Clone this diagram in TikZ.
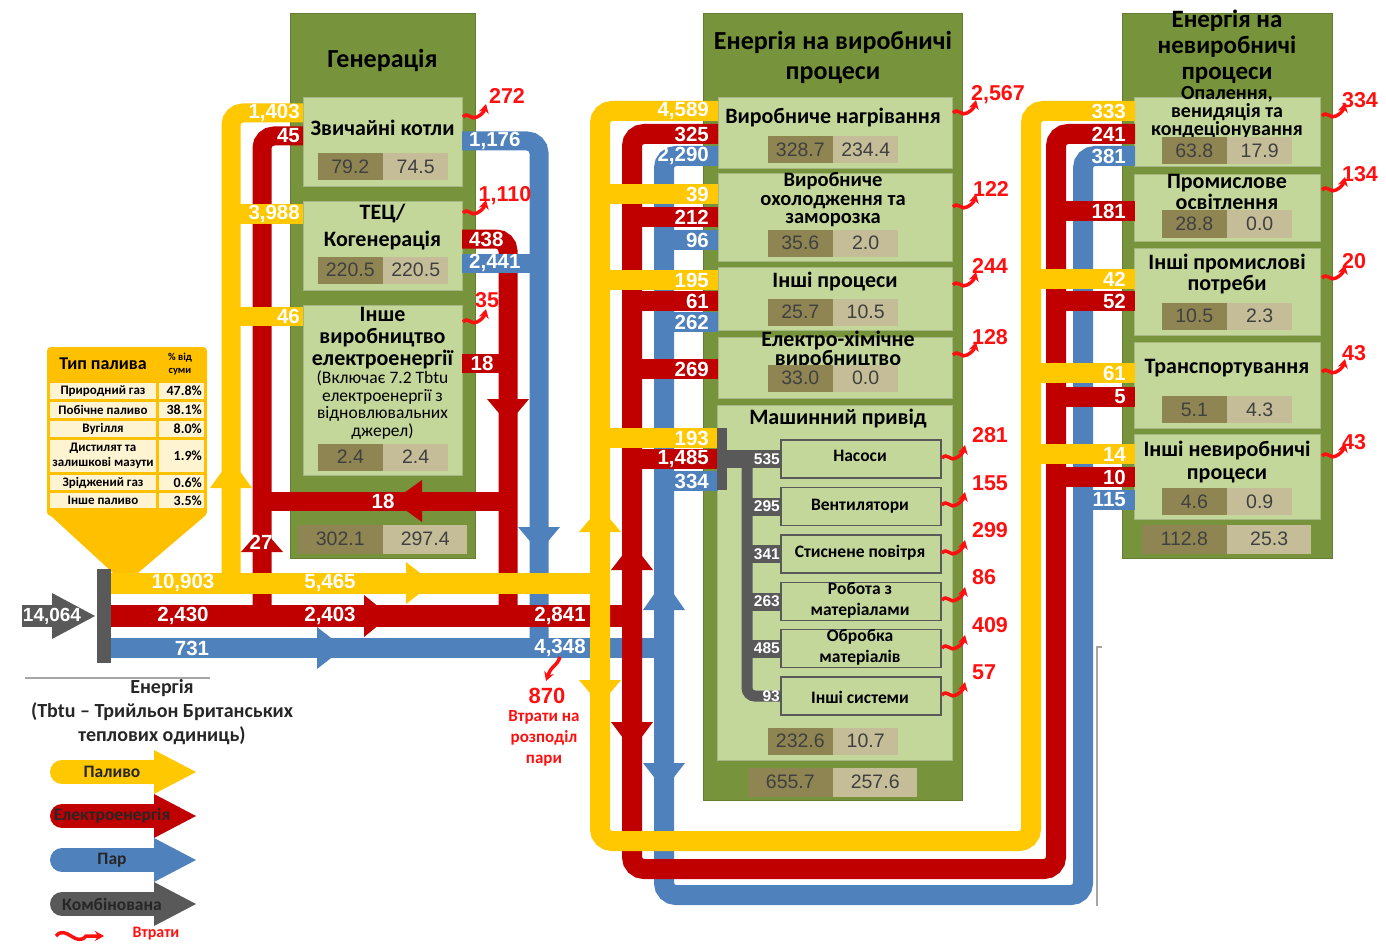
\documentclass[tikz,border=0pt]{standalone}
\usepackage{fontspec}
\setmainfont{Carlito}
\newfontfamily\arialfont{Liberation Sans}
\usetikzlibrary{arrows.meta}

\definecolor{fuelc}{HTML}{FFC800}
\definecolor{elecc}{HTML}{C00000}
\definecolor{steamc}{HTML}{4F81BD}
\definecolor{combc}{HTML}{595959}
\definecolor{lossc}{HTML}{FF1010}
\definecolor{panelc}{HTML}{77933C}
\definecolor{boxc}{HTML}{C4D79B}
\definecolor{numdk}{HTML}{8F8552}
\definecolor{numlt}{HTML}{C4BD97}
\definecolor{tabc}{HTML}{FFC000}
\definecolor{cellc}{HTML}{FFF4D2}

\tikzset{
  panel/.style={fill=panelc, draw=panelc!85!black, line width=0.6pt, inner sep=0pt},
  ubox/.style={fill=boxc, draw=boxc!85!black, line width=0.6pt, inner sep=0pt},
  subbox/.style={fill=boxc, draw=combc, line width=1.6pt, inner sep=0pt},
  ttl/.style={font=\bfseries\fontsize{26}{#1}\selectfont, align=center, inner sep=0pt},
  ttl/.default=27,
  bt/.style={font=\bfseries\fontsize{22}{#1}\selectfont, align=center, inner sep=0pt},
  bt/.default=22,
  subttl/.style={font=\bfseries\fontsize{17.5}{21}\selectfont, align=center, inner sep=0pt},
  smalltxt/.style={font=\fontsize{17.5}{17.5}\selectfont, align=center, inner sep=0pt},
  numd/.style={fill=numdk, minimum width=65pt, minimum height=27pt, inner sep=0pt,
    font=\arialfont\fontsize{19.5}{19.5}\selectfont, text=black!75},
  numl/.style={numd, fill=numlt},
  flow/.style={line width=20pt, rounded corners=12pt},
  fuel/.style={flow, draw=fuelc},
  elec/.style={flow, draw=elecc},
  steam/.style={flow, draw=steamc},
  val/.style={font=\arialfont\bfseries\fontsize{20.5}{20.5}\selectfont, text=white, inner sep=0pt},
  lossval/.style={font=\arialfont\bfseries\fontsize{21.5}{21.5}\selectfont, text=lossc, inner sep=0pt},
  loss/.style={draw=lossc, line width=3.5pt, -{Stealth[length=9pt,width=10pt]}},
  tabtxt/.style={font=\bfseries\fontsize{13}{14.5}\selectfont, inner sep=0pt},
  legtxt/.style={font=\bfseries\fontsize{17.5}{17.5}\selectfont, text=black!85, inner sep=0pt},
}

\begin{document}
\begin{tikzpicture}[x=1pt, y=-1pt]
  \useasboundingbox (0,0) rectangle (1386,944);

  % Panels
  \node[panel, minimum width=185pt, minimum height=545pt] (gen) at (382.5,285.5) {};
  \node[panel, minimum width=259pt, minimum height=787pt] (prod) at (832.5,406.5) {};
  \node[panel, minimum width=210pt, minimum height=545pt] (nonprod) at (1227,285.5) {};

  % Process boxes
  \foreach \nm/\cx/\cy/\w/\h in {boiler/382.5/141.5/159/89, chp/382.5/245.5/159/89,
      othgen/382.5/390/159/170, heat/835/132.5/234/71, cool/835/217/234/88,
      oproc/835/298.5/234/63, echem/835/367.5/234/61, drive/834.5/582.5/235/355,
      hvac/1227/131.5/186/69, light/1227/207.5/186/67, oneed/1227/291.5/186/87,
      transp/1227/385/186/86, onon/1227/476.5/186/85}
    \node[ubox, minimum width=\w pt, minimum height=\h pt] (\nm) at (\cx,\cy) {};

  % Machine drive sub boxes
  \foreach \nm/\cy in {pumps/459, fans/506.5, air/554, mhand/601.5, mproc/648.5, osys/696}
    \node[subbox, minimum width=160pt, minimum height=38pt] (\nm) at (861,\cy) {};

  % Generation flows
  \draw[fuel, line width=19pt] (231,583) -- (231,113) -- (303,113);
  \draw[elec, line width=19pt] (262,616) -- (262,136) -- (303,136);
  \draw[elec, line width=19pt] (462,239) -- (508,239) -- (508,616);
  \draw[steam, line width=19pt] (462,141) -- (539,141) -- (539,648);
  \draw[fuel, line width=19pt] (231,214) -- (303,214);
  \draw[fuel, line width=19pt] (231,316) -- (303,316);
  \draw[steam, line width=19pt] (462,263) -- (539,263);
  \draw[elec, line width=19pt] (462,363) -- (508,363);
  \draw[elec, line width=19pt] (508,501) -- (262,501);

  % Fuel table and funnel
  \fill[tabc] (50,515) -- (206,515) -- (125,584) -- cycle;
  \fill[tabc, rounded corners=4pt] (47,347) rectangle (207,516);
  \node[font=\bfseries\fontsize{18}{18}\selectfont, inner sep=0pt] (tabh1) at (103,364) {Тип палива};
  \node[font=\bfseries\fontsize{10.5}{13}\selectfont, align=center, inner sep=0pt] (tabh2) at (180,364) {\% від\\суми};
  \foreach \txt/\pc/\ya/\yb [count=\i] in {Природний газ/47.8\%/383/399, Побічне паливо/38.1\%/402/418,
      Вугілля/8.0\%/421/437, {Дистилят та\\залишкові мазути}/1.9\%/440/472,
      Зріджений газ/0.6\%/475/490, Інше паливо/3.5\%/493/508}{
    \fill[cellc] (50,\ya) rectangle (156,\yb);
    \fill[cellc] (159,\ya) rectangle (204,\yb);
    \node[tabtxt, align=center] (tabt\i) at (103,{(\ya+\yb)/2}) {\txt};
    \node[tabtxt, anchor=east, font=\bfseries\fontsize{14}{14}\selectfont] (tabp\i) at (202,{(\ya+\yb)/2}) {\pc};
  }

  % Main supply lines
  \draw[steam] (111,648) -- (664,648);
  \draw[elec, line width=22pt] (111,616) -- (632,616);
  \draw[fuel, line width=21pt] (111,583) -- (600,583);

  % Loops to the two end-use panels
  \draw[steam] (718,156) -- (664,156) -- (664,895) -- (1083,895) -- (1083,156) -- (1135,156);
  \draw[elec] (718,134) -- (632,134) -- (632,869) -- (1056,869) -- (1056,134) -- (1135,134);
  \draw[fuel] (718,111) -- (600,111) -- (600,841) -- (1031,841) -- (1031,111) -- (1135,111);

  % Branches
  \foreach \y in {240,322,481} \draw[steam] (664,\y) -- (718,\y);
  \draw[steam] (1083,500) -- (1135,500);
  \foreach \y in {217,301,369,459} \draw[elec] (632,\y) -- (718,\y);
  \foreach \y in {211,301,397,477} \draw[elec] (1056,\y) -- (1135,\y);
  \foreach \y in {194,280,438} \draw[fuel] (600,\y) -- (718,\y);
  \foreach \y in {279,373,454} \draw[fuel] (1031,\y) -- (1135,\y);

  % Machine drive distribution
  \fill[combc] (717,428) rectangle (727,490);
  \draw[combc, line width=18pt] (722,459) -- (781,459);
  \draw[combc, line width=11pt, rounded corners=8pt] (747,459) -- (747,696) -- (781,696);
  \foreach \y in {506.5,554,601.5,648.5} \draw[combc, line width=18pt] (747,\y) -- (781,\y);

  % Source
  \fill[combc] (22,605) rectangle (54,627);
  \fill[combc] (52,593) -- (95,616) -- (52,639) -- cycle;
  \fill[combc] (97,569) rectangle (111,663);

  % Arrow heads on flows
  \foreach \col/\x/\ya/\yb in {fuelc/231/488/459, elecc/262/552/528, elecc/508/399/424,
      steamc/539/527/552, fuelc/600/532/507, fuelc/600/680/705, elecc/632/570/543,
      elecc/632/722/750, steamc/664/610/580, steamc/664/763/790}
    \fill[\col] (\x-21,\ya) -- (\x,\yb) -- (\x+21,\ya) -- cycle;
  \foreach \col/\y/\xa/\xb in {fuelc/583/406/433, elecc/616/364/390, steamc/648/317/344, elecc/501/422/393}
    \fill[\col] (\xa,\y-21) -- (\xb,\y) -- (\xa,\y+21) -- cycle;

  % Thin frame line
  \draw[black!35, line width=1.2pt] (1102,647) -- (1097,647) -- (1097,906);

  % Titles
  \node[ttl] (gen-t) at (382.5,60) {Генерація};
  \node[bt] (boiler-t) at (382.5,128) {Звичайні котли};
  \node[bt=27] (chp-t) at (382.5,227.5) {ТЕЦ/\\Когенерація};
  \node[bt=22] (othgen-t) at (382.5,338) {Інше\\виробництво\\електроенергії};
  \node[smalltxt] (othgen-n) at (382.5,405) {(Включає 7.2 Tbtu\\електроенергії з\\відновлювальних\\джерел)};

  \node[ttl=30] (prod-t) at (833,57) {Енергія на виробничі\\процеси};
  \node[bt] (heat-t) at (833,118) {Виробниче нагрівання};
  \node[bt, font=\bfseries\fontsize{20.5}{18.5}\selectfont] (cool-t) at (833,200) {Виробниче\\охолодження та\\заморозка};
  \node[bt] (oproc-t) at (835,282) {Інші процеси};
  \node[bt=15] (echem-t) at (838,350) {Електро-хімічне\\виробництво};
  \node[bt] (drive-t) at (838,419) {Машинний привід};
  \foreach \nm/\cy/\txt in {pumps/456/Насоси, fans/506/Вентилятори, air/553/Стиснене повітря,
      mhand/600/{Робота з\\матеріалами}, mproc/647/{Обробка\\матеріалів}, osys/697/Інші системи}
    \node[subttl] (\nm-t) at (860,\cy) {\txt};

  \node[ttl=26, font=\bfseries\fontsize{25}{26}\selectfont] (nonprod-t) at (1227,47) {Енергія на\\невиробничі\\процеси};
  \node[bt, font=\bfseries\fontsize{20}{12.5}\selectfont] (hvac-t) at (1227,113) {Опалення,\\венидяція та\\кондеціонування};
  \node[bt=21] (light-t) at (1227,192) {Промислове\\освітлення};
  \node[bt=21] (oneed-t) at (1227,274.5) {Інші промислові\\потреби};
  \node[bt] (transp-t) at (1227,368) {Транспортування};
  \node[bt=23] (onon-t) at (1227,462.5) {Інші невиробничі\\процеси};

  % Number pairs
  \foreach \nm/\sx/\cy/\da/\db in {boiler/383/167/79.2/74.5, chp/383/270/220.5/220.5,
      othgen/383/457/2.4/2.4, heat/833/150/328.7/234.4, cool/833/243/35.6/2.0,
      oproc/833/312/25.7/10.5, echem/833/378/33.0/0.0, drive/833/741/232.6/10.7,
      hvac/1227/151/63.8/17.9, light/1227/224/28.8/0.0, oneed/1227/316/10.5/2.3,
      transp/1227/409.5/5.1/4.3, onon/1227/501.5/4.6/0.9}{
    \node[numd, anchor=east] (\nm-d) at (\sx,\cy) {\da};
    \node[numl, anchor=west] (\nm-l) at (\sx,\cy) {\db};
  }
  \foreach \nm/\sx/\cy/\da/\db in {gentot/383/539/302.1/297.4, prodtot/833/782/655.7/257.6,
      nontot/1227/539/112.8/25.3}{
    \node[numd, anchor=east, minimum width=85pt, minimum height=29pt] (\nm-d) at (\sx,\cy) {\da};
    \node[numl, anchor=west, minimum width=84pt, minimum height=29pt] (\nm-l) at (\sx,\cy) {\db};
  }

  % Flow values
  \foreach \x/\y/\an/\lab [count=\i] in {300/113/east/{1,403}, 300/136/east/45, 300/214/east/{3,988},
      300/316/east/46, 469/141/west/{1,176}, 469/239/west/438, 469/263/west/{2,441},
      482/363/center/18, 383/501/center/18, 261/542/center/27,
      709/111/east/{4,589}, 709/134/east/325, 709/156/east/{2,290}, 709/194/east/39,
      709/217/east/212, 709/240/east/96, 709/280/east/195, 709/301/east/61,
      709/322/east/262, 709/369/east/269, 709/438/east/193, 709/459/east/{1,485},
      709/481/east/334,
      1126/111/east/333, 1126/134/east/241, 1126/156/east/381, 1126/211/east/181,
      1126/279/east/42, 1126/301/east/52, 1126/373/east/61, 1126/397/east/5,
      1126/454/east/14, 1126/477/east/10, 1126/500/east/115,
      183/583/center/{10,903}, 330/583/center/{5,465}, 183/616/center/{2,430},
      330/616/center/{2,403}, 192/648/center/731, 560/616/center/{2,841},
      560/648/center/{4,348}}
    \node[val, anchor=\an] (v\i) at (\x,\y) {\lab};
  \node[val, font=\arialfont\bfseries\fontsize{19}{19}\selectfont] (src) at (52,616) {14,064};

  \foreach \y/\lab in {459/535, 506.5/295, 554/341, 601.5/263, 648.5/485, 696/93}
    \node[val, font=\arialfont\bfseries\fontsize{15.5}{15.5}\selectfont, anchor=east] (d\lab) at (780,\y) {\lab};

  % Losses
  \foreach \x/\y/\lx/\ly/\lab [count=\i] in {463/117/507/96/272, 463/213/505/196/{1,110},
      463/322/487/300/35, 953/113/998/95/{2,567}, 953/207/991/189/122, 953/285/990/266/244,
      953/355/990/337/128, 942/458/990/435/281, 942/505/990/483/155, 942/553/990/530/299,
      942/600/984/577/86, 942/648/990/625/409, 942/695/984/672/57,
      1322/116/1360/100/334, 1322/190/1360/174/134, 1322/278/1354/261/20,
      1322/372/1354/353/43, 1322/456/1354/442/43}{
    \draw[loss] (\x,\y) .. controls (\x+5,\y-6) and (\x+9,\y+4) .. (\x+14,\y)
      .. controls (\x+18,\y-2) and (\x+21,\y-5) .. (\x+23,\y-13);
    \node[lossval] (l\i) at (\lx,\ly) {\lab};
  }
  \draw[loss] (560,657) .. controls (556,668) and (552,664) .. (546,681);
  \node[lossval, font=\arialfont\bfseries\fontsize{22}{22}\selectfont] (dist) at (547,696) {870};
  \node[font=\bfseries\fontsize{17}{21}\selectfont, text=lossc, align=center, inner sep=0pt] (dist-t) at (544,738) {Втрати на\\розподіл\\пари};

  % Legend
  \draw[black!35, line width=1.5pt] (25,678) -- (210,678);
  \node[legtxt, align=center, font=\bfseries\fontsize{20}{24}\selectfont] (units) at (162,712)
    {Енергія\\(Tbtu -- Трийльон Британських\\теплових одиниць)};
  \foreach \col/\y/\txt [count=\i] in {fuelc/772/Паливо, elecc/816/Електроенергія, steamc/860/Пар, combc/904/Комбінована}{
    \draw[\col, line width=24pt, line cap=round] (62,\y) -- (158,\y);
    \fill[\col] (154,\y-22) -- (196,\y) -- (154,\y+22) -- cycle;
    \node[legtxt] (leg\i) at (112,\y) {\txt};
  }
  \draw[loss] (56,936) .. controls (66,924) and (76,948) .. (86,936) -- (104,936);
  \node[font=\bfseries\fontsize{16}{16}\selectfont, text=lossc, inner sep=0pt] (leg-loss) at (156,934) {Втрати};
\end{tikzpicture}
\end{document}
